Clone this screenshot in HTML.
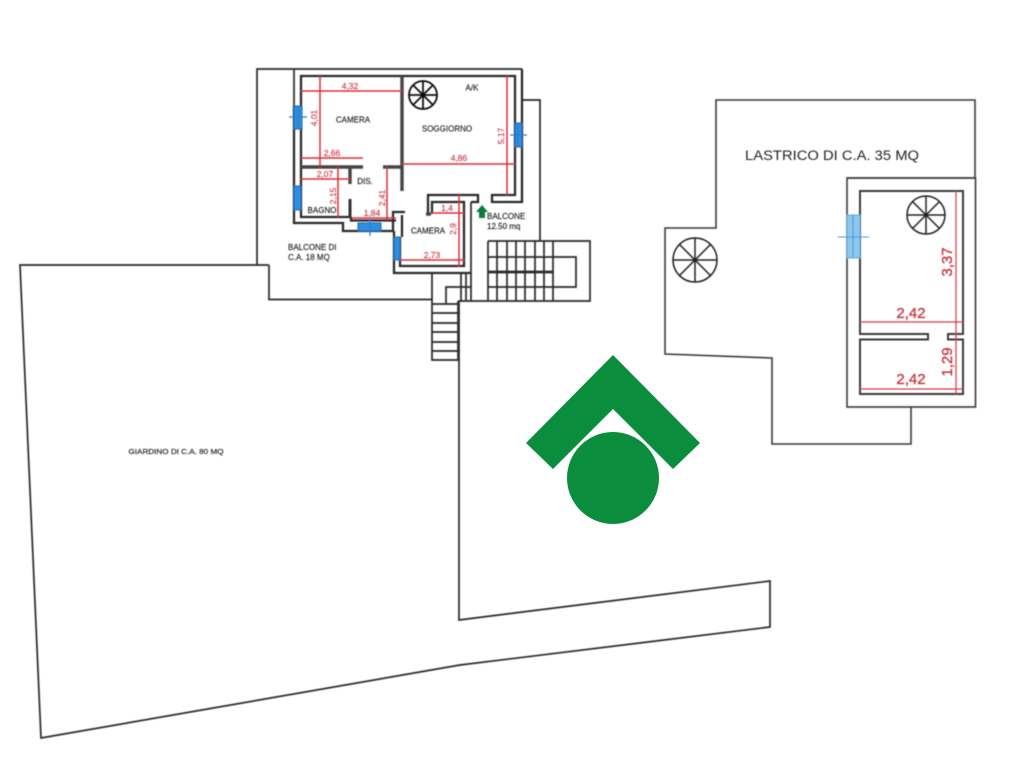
<!DOCTYPE html>
<html><head><meta charset="utf-8"><style>
html,body{margin:0;padding:0;background:#fff}
svg{display:block}
text{font-family:"Liberation Sans",sans-serif}
.d{fill:#222;font-size:8px;text-anchor:middle;stroke:#222;stroke-width:.15px}
.r{fill:#cf3a45;font-size:8.5px;text-anchor:middle;stroke:#cf3a45;stroke-width:.15px}
.R{fill:#c6323e;font-size:15px;text-anchor:middle;stroke:#c6323e;stroke-width:.3px}
</style></head><body>
<svg width="1024" height="768" viewBox="0 0 1024 768" xmlns="http://www.w3.org/2000/svg">
<defs><filter id="b" x="-5%" y="-5%" width="110%" height="110%"><feGaussianBlur stdDeviation="0.45"/></filter></defs>
<g filter="url(#b)">
<!-- site outlines -->
<g fill="none" stroke="#2a2a2a" stroke-width="1.700">
<path d="M269 265H20L41 738L460 665L770 627V581L459 620V301H590V241H488"/>
<path d="M269 265V299.500H432"/>
<path d="M257 265V69H522M522 100H540V241"/>
<path d="M294 69V106"/>
<!-- stairs -->
<path d="M432 273V360H458V301M432 304H458M432 313H458M432 323H458M432 332H458M432 342H458M432 351H458M446 304V287H471M461 273V301M466 273V301M471 202V301"/>
<path d="M488 257H576V287H488M488 241V301M497 241V301M507 241V301M516 241V301M525 241V301M535 241V301M544 241V301M553 241V301"/>
<path d="M488 272H553" stroke-width="2.800"/>
</g>
<!-- apartment walls -->
<g fill="none" stroke="#2a2a2a" stroke-width="2.300">
<path d="M522 69V202H492V195H515V76H301V217H350V199"/>
<path d="M294 106V223H343V231H393V212H405M394 231V273H471M351 217V220.500H396M402 215V237M400 237V266H464V202H432V214M428 214V195H478V202H471"/>
</g>
<!-- thick walls -->
<g fill="none" stroke="#444" stroke-width="3.400">
<path d="M402 76V191M301 167H363M383 167H402M350 167V184M426 214H431"/>
</g>
<path d="M350 199V217" stroke="#333" stroke-width="3"/>
<!-- red dims apt -->
<g fill="none" stroke="#d8303c" stroke-width="1.500">
<path d="M301 91H402M320 76V167M301 158H363M301 179H350M338 167V217M387 167V220M352 218H396M402 164H515M507 76V195M459 195V267M431 213H464M400 260H464"/>
</g>
<!-- windows apt -->
<g fill="#2f8fe0" stroke="#1c66b0" stroke-width="1">
<rect x="294" y="106" width="8" height="23"/>
<rect x="515" y="123" width="7" height="24"/>
<rect x="294" y="186" width="7" height="24"/>
<rect x="358" y="223" width="23" height="8"/>
<rect x="394" y="237" width="6" height="23"/>
</g>
<path d="M289 117H307M298 106V129M510 135H527M518 123V147M370 218V236" stroke="#2a7fd0" stroke-width="1.300" fill="none"/>
<!-- wheel apt -->
<g stroke="#111" fill="none" stroke-width="1.800">
<circle cx="423" cy="95" r="14"/>
<path d="M409 95H437M423 81V109M413 85L433 105M433 85L413 105"/>
</g>
<!-- green arrow -->
<path d="M482 205L488 212H485V218H479V212H476Z" fill="#0c7a3c"/>
<!-- apartment labels -->
<text class="d" x="353" y="122.500">CAMERA</text>
<text class="d" x="472" y="90.500">A/K</text>
<text class="d" x="447" y="131.500">SOGGIORNO</text>
<text class="d" x="365" y="184">DIS.</text>
<text class="d" x="322" y="213">BAGNO</text>
<text class="d" x="428" y="233.500">CAMERA</text>
<text class="d" x="487" y="219" style="text-anchor:start">BALCONE</text>
<text class="d" x="487" y="229" style="text-anchor:start">12.50 mq</text>
<text class="d" x="288" y="250" style="text-anchor:start">BALCONE DI</text>
<text class="d" x="288" y="260" style="text-anchor:start">C.A. 18 MQ</text>
<text class="d" x="176" y="454" textLength="95" lengthAdjust="spacingAndGlyphs" style="font-size:7.500px">GIARDINO DI C.A. 80 MQ</text>
<text class="r" x="350" y="89">4,32</text>
<text class="r" x="332" y="156">2,66</text>
<text class="r" x="325" y="177">2,07</text>
<text class="r" x="372" y="216">1,84</text>
<text class="r" x="459" y="161">4,86</text>
<text class="r" x="447" y="211">1,4</text>
<text class="r" x="432" y="258">2,73</text>
<text class="r" transform="translate(317,118) rotate(-90)">4,01</text>
<text class="r" transform="translate(504,136) rotate(-90)">5,17</text>
<text class="r" transform="translate(336,196) rotate(-90)">2,15</text>
<text class="r" transform="translate(385,198) rotate(-90)">2,41</text>
<text class="r" transform="translate(456,229) rotate(-90)">2,9</text>
<!-- lastrico -->
<g fill="none" stroke="#3a3a3a" stroke-width="1.600">
<path d="M847 178H975V100H716V228H665V354L772 358V444H911V407"/>
<rect x="847" y="178" width="128.500" height="229"/>
<path d="M860 334V191H963V334H948V339.500H963V394H860V339.500H928V334H860Z" stroke-width="2"/>
</g>
<rect x="847" y="215" width="13" height="43" fill="#8cc8ee" stroke="#5aa5d8" stroke-width="1"/>
<path d="M838 237H869M853 215V258" stroke="#4c9ad2" stroke-width="1.100"/>
<g stroke="#222" fill="none" stroke-width="1.500">
<circle cx="926" cy="215" r="19"/>
<path d="M907 215H945M926 196V234M912.500 201.500L939.500 228.500M939.500 201.500L912.500 228.500"/>
<circle cx="695" cy="260" r="22"/>
<path d="M673 260H717M695 238V282M679.500 244.500L710.500 275.500M710.500 244.500L679.500 275.500"/>
</g>
<path d="M956 191V394M860 322H963M860 389H963" stroke="#d23d48" stroke-width="1.200" fill="none"/>
<text x="745" y="160" textLength="174" lengthAdjust="spacingAndGlyphs" style="font-size:13.500px;fill:#222">LASTRICO DI C.A. 35 MQ</text>
<text class="R" x="911" y="318">2,42</text>
<text class="R" x="911" y="384">2,42</text>
<text class="R" transform="translate(952,262) rotate(-90)">3,37</text>
<text class="R" transform="translate(952,362) rotate(-90)">1,29</text>
</g>
<!-- logo -->
<path d="M613 355L700 443L673 469L613 409L553 469L526 443Z" fill="#0a8d3c"/>
<circle cx="613" cy="478" r="46" fill="#0a8d3c"/>
</svg>
</body></html>
